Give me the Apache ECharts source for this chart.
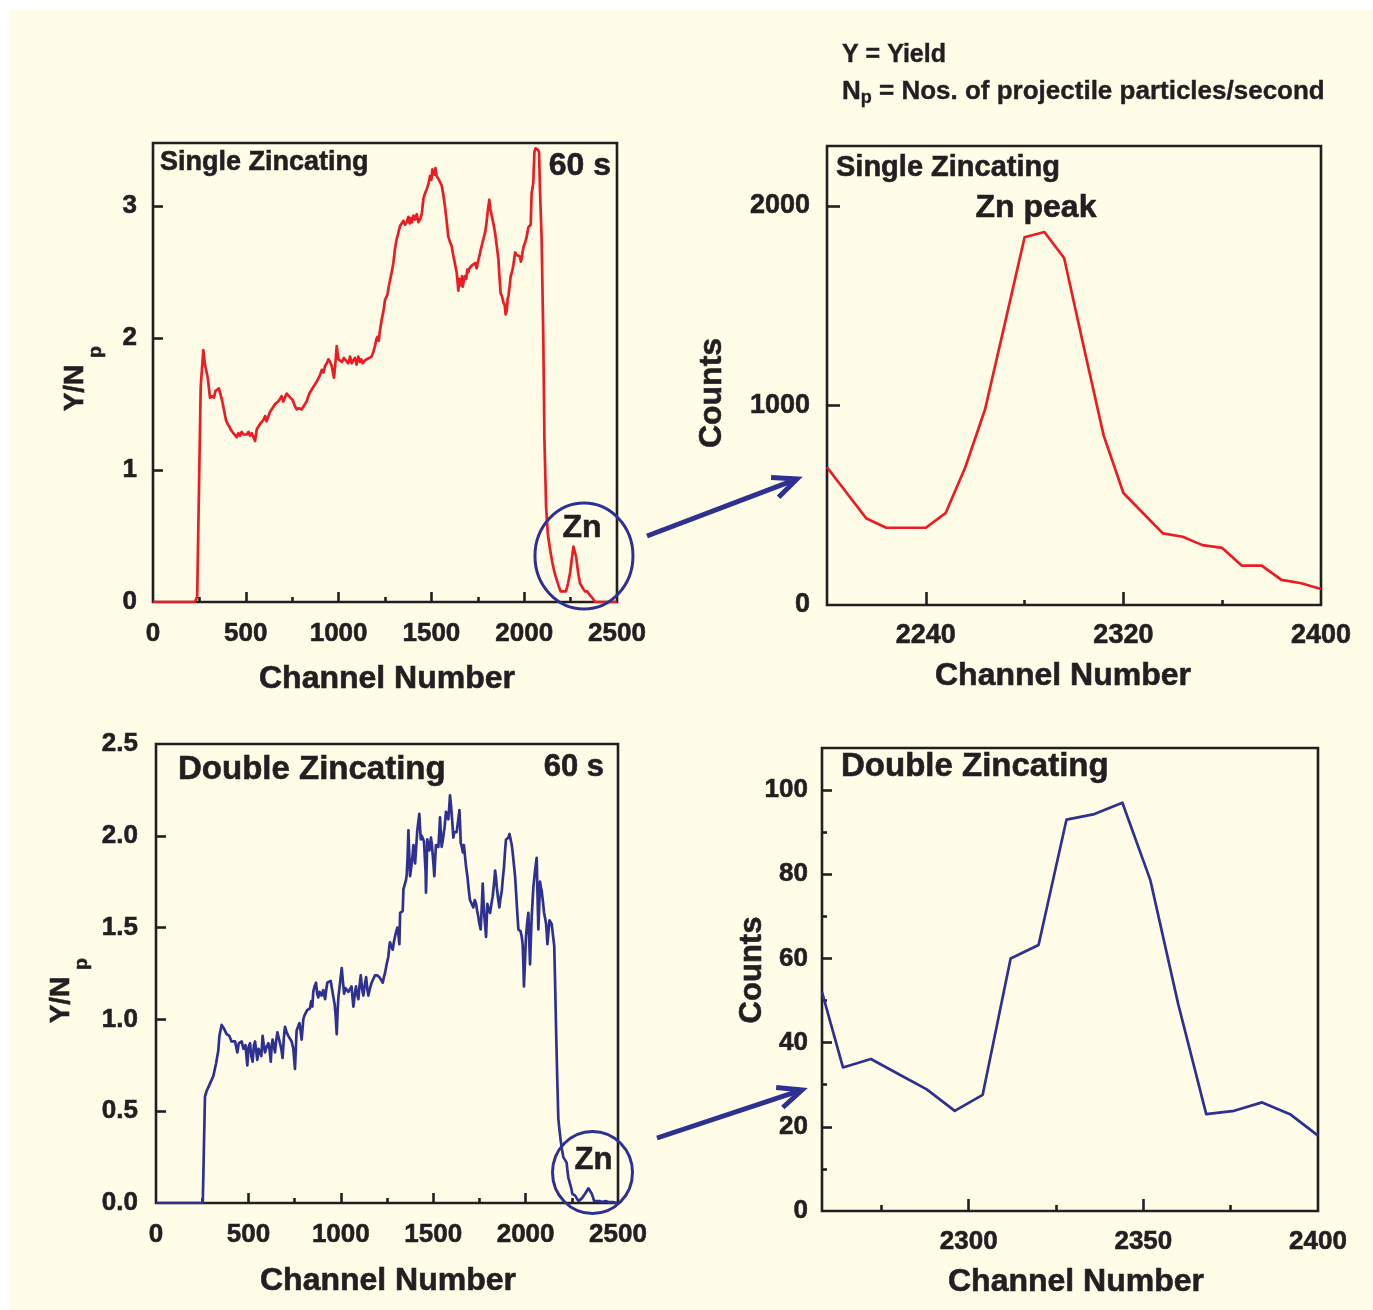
<!DOCTYPE html>
<html>
<head>
<meta charset="utf-8">
<script src="https://cdn.jsdelivr.net/npm/echarts@6/dist/echarts.min.js"></script>
<style>
  html, body { margin: 0; padding: 0; background: #ffffff; }
  #chart { width: 1373px; height: 1310px; background: #FFFDE8; box-shadow: inset 10px 10px 0 0 #ffffff; }
</style>
</head>
<body>
<div id="chart"></div>
<script>
// ---------- data: [channel, value] ----------
// Single zincating, full spectrum (Y/Np vs channel)
const singleSpectrum = [
  [0,0],[226,0],[238,0.04],[257,1.63],[271,1.91],[280,1.80],[286,1.79],[295,1.70],[303,1.69],[307,1.55],
  [318,1.56],[329,1.55],[336,1.60],[343,1.61],[355,1.62],[365,1.61],[372,1.53],[379,1.48],[393,1.38],[402,1.35],
  [411,1.33],[422,1.30],[433,1.28],[442,1.27],[451,1.25],[460,1.28],[468,1.26],[478,1.29],[487,1.27],[496,1.28],
  [505,1.27],[515,1.29],[523,1.26],[532,1.28],[541,1.27],[550,1.22],[559,1.31],[568,1.30],[577,1.35],[586,1.34],
  [595,1.38],[604,1.41],[612,1.37],[621,1.38],[630,1.44],[639,1.46],[648,1.45],[657,1.50],[666,1.49],[675,1.52],
  [684,1.54],[693,1.56],[702,1.52],[711,1.53],[720,1.58],[729,1.57],[740,1.55],[753,1.53],[763,1.49],[774,1.46],
  [787,1.47],[801,1.46],[810,1.48],[819,1.48],[828,1.52],[837,1.56],[846,1.59],[855,1.58],[864,1.63],[873,1.62],
  [882,1.67],[891,1.67],[900,1.72],[909,1.76],[918,1.74],[927,1.79],[936,1.81],[945,1.84],[954,1.82],[963,1.79],
  [970,1.80],[975,1.70],[982,1.80],[990,1.94],[999,1.84],[1008,1.84],[1018,1.82],[1029,1.85],[1040,1.83],[1052,1.81],
  [1062,1.86],[1070,1.81],[1079,1.82],[1088,1.85],[1097,1.80],[1106,1.86],[1115,1.82],[1122,1.84],[1130,1.81],[1140,1.83],
  [1151,1.84],[1165,1.85],[1178,1.86],[1188,1.90],[1196,1.94],[1203,1.99],[1209,2.01],[1216,1.98],[1223,2.06],[1232,2.14],
  [1241,2.20],[1250,2.29],[1257,2.30],[1263,2.33],[1270,2.39],[1277,2.44],[1286,2.50],[1295,2.57],[1304,2.68],[1313,2.75],
  [1322,2.80],[1331,2.85],[1340,2.84],[1349,2.89],[1358,2.86],[1367,2.88],[1376,2.92],[1383,2.87],[1388,2.91],[1395,2.88],
  [1403,2.93],[1412,2.90],[1421,2.94],[1430,2.88],[1439,2.90],[1448,2.94],[1457,3.06],[1466,3.10],[1475,3.13],[1484,3.17],
  [1493,3.23],[1500,3.20],[1505,3.28],[1510,3.27],[1516,3.24],[1522,3.29],[1528,3.23],[1537,3.21],[1546,3.20],[1555,3.16],
  [1564,3.09],[1572,3.01],[1579,2.93],[1585,2.85],[1591,2.77],[1600,2.73],[1609,2.70],[1616,2.64],[1622,2.60],[1629,2.55],
  [1636,2.50],[1641,2.43],[1645,2.36],[1650,2.45],[1654,2.44],[1660,2.40],[1665,2.47],[1669,2.39],[1675,2.44],[1681,2.47],
  [1688,2.45],[1693,2.52],[1699,2.50],[1705,2.53],[1711,2.52],[1717,2.55],[1727,2.56],[1736,2.57],[1744,2.53],[1751,2.58],
  [1758,2.62],[1764,2.66],[1771,2.70],[1780,2.75],[1789,2.80],[1795,2.85],[1801,2.93],[1807,3.00],[1812,3.05],[1818,2.98],
  [1825,2.93],[1834,2.87],[1843,2.80],[1852,2.70],[1861,2.60],[1866,2.48],[1873,2.34],[1880,2.32],[1888,2.27],[1895,2.25],
  [1900,2.18],[1906,2.21],[1911,2.30],[1915,2.32],[1922,2.40],[1927,2.47],[1934,2.50],[1941,2.55],[1946,2.60],[1951,2.65],
  [1960,2.63],[1968,2.64],[1977,2.62],[1982,2.58],[1986,2.60],[1992,2.66],[1998,2.70],[2004,2.72],[2012,2.76],[2022,2.84],
  [2030,2.85],[2035,2.86],[2040,3.10],[2045,3.14],[2049,3.18],[2055,3.41],[2061,3.44],[2067,3.44],[2074,3.43],[2080,3.41],
  [2085,3.13],[2094,2.75],[2103,1.99],[2109,1.23],[2118,0.72],[2127,0.52],[2135,0.44],[2144,0.36],[2153,0.29],[2164,0.22],
  [2175,0.17],[2186,0.12],[2197,0.08],[2211,0.08],[2225,0.08],[2236,0.14],[2247,0.22],[2256,0.32],[2265,0.42],[2274,0.42],
  [2280,0.34],[2286,0.27],[2293,0.20],[2301,0.14],[2310,0.14],[2318,0.10],[2328,0.08],[2340,0.08],[2355,0.05],[2368,0.03],
  [2382,0],[2500,0]
];

// Single zincating, Zn peak region (counts vs channel)
const singlePeak = [
  [2200,690],[2208,561],[2216,433],[2224,387],[2232,387],[2240,387],[2248,460],[2256,690],[2264,981],[2272,1410],
  [2280,1843],[2288,1869],[2296,1739],[2304,1290],[2312,850],[2320,561],[2328,460],[2336,359],[2344,342],[2352,300],
  [2360,286],[2368,197],[2376,197],[2384,126],[2392,109],[2400,80]
];

// Double zincating, full spectrum (Y/Np vs channel)
const doubleSpectrum = [
  [0,0],[253,0],[265,0.58],[274,0.61],[292,0.65],[310,0.69],[325,0.76],[337,0.83],[343,0.91],[355,0.97],
  [368,0.95],[382,0.92],[390,0.93],[397,0.91],[409,0.88],[419,0.89],[428,0.88],[440,0.82],[448,0.87],[455,0.86],
  [464,0.88],[473,0.84],[484,0.86],[494,0.75],[501,0.85],[509,0.87],[516,0.80],[523,0.77],[530,0.86],[536,0.88],
  [542,0.83],[548,0.78],[555,0.84],[563,0.85],[570,0.80],[577,0.91],[583,0.86],[590,0.82],[598,0.85],[608,0.87],
  [615,0.83],[621,0.77],[626,0.86],[631,0.89],[638,0.85],[644,0.82],[650,0.88],[657,0.93],[664,0.90],[671,0.89],
  [678,0.84],[685,0.79],[692,0.90],[698,0.96],[707,0.93],[716,0.91],[725,0.90],[734,0.88],[743,0.84],[752,0.73],
  [757,0.85],[761,0.94],[768,0.95],[776,0.98],[782,0.94],[788,0.89],[793,0.95],[797,1.00],[803,1.02],[810,1.03],
  [818,1.05],[825,1.04],[833,1.06],[840,1.10],[846,1.07],[851,1.15],[858,1.18],[866,1.20],[872,1.14],[878,1.12],
  [885,1.15],[896,1.13],[905,1.16],[915,1.11],[921,1.16],[927,1.20],[936,1.19],[945,1.21],[952,1.17],[960,1.12],
  [967,1.08],[972,1.02],[978,0.92],[983,1.05],[987,1.12],[996,1.20],[1005,1.28],[1012,1.20],[1018,1.14],[1025,1.17],
  [1032,1.18],[1041,1.15],[1050,1.14],[1058,1.18],[1068,1.07],[1075,1.13],[1082,1.18],[1088,1.14],[1095,1.11],[1101,1.18],
  [1108,1.24],[1115,1.17],[1122,1.13],[1130,1.19],[1137,1.23],[1143,1.17],[1149,1.13],[1158,1.17],[1167,1.20],[1176,1.22],
  [1185,1.24],[1197,1.24],[1209,1.23],[1218,1.22],[1227,1.20],[1233,1.23],[1239,1.25],[1248,1.30],[1257,1.34],[1262,1.39],
  [1266,1.42],[1273,1.40],[1281,1.38],[1287,1.42],[1293,1.45],[1300,1.48],[1306,1.50],[1312,1.46],[1317,1.41],[1321,1.58],
  [1328,1.58],[1335,1.59],[1339,1.71],[1348,1.71],[1353,1.76],[1357,1.79],[1362,1.90],[1366,2.03],[1371,1.88],[1375,1.78],
  [1380,1.82],[1384,1.85],[1389,1.90],[1393,1.95],[1398,1.90],[1402,1.85],[1408,1.94],[1414,2.03],[1420,2.08],[1425,2.12],
  [1429,2.04],[1433,1.98],[1438,2.00],[1443,2.01],[1450,1.97],[1456,1.96],[1459,1.80],[1461,1.69],[1465,1.85],[1468,1.98],
  [1474,1.95],[1479,1.92],[1484,1.96],[1488,1.99],[1493,1.95],[1497,1.90],[1502,1.84],[1506,1.78],[1511,1.88],[1515,1.95],
  [1522,1.96],[1528,1.94],[1533,2.02],[1537,2.10],[1542,2.00],[1546,1.94],[1551,1.97],[1555,1.96],[1562,2.05],[1569,2.13],
  [1576,2.11],[1582,2.09],[1587,2.16],[1591,2.22],[1596,2.17],[1600,2.12],[1605,2.05],[1609,1.99],[1614,2.02],[1618,2.03],
  [1627,2.02],[1636,2.03],[1642,2.14],[1646,2.05],[1649,1.96],[1655,1.94],[1660,1.91],[1666,1.95],[1672,1.94],[1678,1.83],
  [1685,1.78],[1692,1.71],[1699,1.65],[1708,1.63],[1717,1.61],[1725,1.65],[1732,1.63],[1738,1.59],[1744,1.56],[1750,1.52],
  [1757,1.49],[1763,1.62],[1768,1.74],[1773,1.63],[1777,1.56],[1782,1.50],[1786,1.45],[1790,1.55],[1793,1.63],[1800,1.60],
  [1808,1.58],[1815,1.63],[1822,1.67],[1829,1.74],[1835,1.81],[1840,1.77],[1844,1.72],[1851,1.66],[1858,1.61],[1864,1.66],
  [1871,1.70],[1877,1.77],[1883,1.83],[1889,1.92],[1894,1.98],[1901,1.99],[1907,1.99],[1913,2.01],[1919,2.00],[1925,1.95],
  [1930,1.91],[1937,1.84],[1943,1.78],[1948,1.70],[1952,1.63],[1957,1.55],[1961,1.49],[1967,1.49],[1973,1.48],[1979,1.45],
  [1984,1.41],[1988,1.30],[1991,1.18],[1996,1.30],[2002,1.45],[2008,1.52],[2015,1.58],[2020,1.42],[2024,1.30],[2029,1.45],
  [2033,1.56],[2038,1.65],[2042,1.72],[2047,1.77],[2051,1.81],[2056,1.85],[2060,1.88],[2064,1.70],[2069,1.49],[2074,1.62],
  [2078,1.75],[2083,1.72],[2087,1.70],[2094,1.64],[2100,1.58],[2106,1.55],[2111,1.52],[2115,1.46],[2118,1.41],[2124,1.48],
  [2129,1.54],[2135,1.53],[2141,1.52],[2150,1.52],[2155,1.40],[2159,1.23],[2165,0.94],[2172,0.65],[2177,0.46],[2183,0.40],
  [2190,0.34],[2197,0.29],[2204,0.25],[2213,0.24],[2222,0.22],[2227,0.17],[2231,0.14],[2236,0.12],[2241,0.11],[2247,0.08],
  [2253,0.05],[2260,0.05],[2268,0.04],[2277,0.03],[2286,0.01],[2295,0.02],[2304,0.025],[2313,0.03],[2322,0.05],[2331,0.06],
  [2340,0.08],[2349,0.07],[2358,0.05],[2365,0.03],[2371,0.01],[2387,0.01],[2403,0.01],[2414,0.005],[2424,0],[2432,0.01],
  [2439,0.015],[2448,0.005],[2457,0],[2475,0.005],[2493,0],[2500,0]
];

// Double zincating, Zn peak region (counts vs channel)
const doublePeak = [
  [2258,52],[2264,34.1],[2272,36.1],[2280,32.5],[2288,28.9],[2296,23.8],[2304,27.6],[2312,60.0],[2320,63.2],[2328,93.0],
  [2336,94.3],[2344,97.0],[2352,78.6],[2360,49.1],[2368,23.0],[2376,23.8],[2384,25.8],[2392,23.0],[2400,17.9]
];

// tick label values
const spectrumXLabels = [0, 500, 1000, 1500, 2000, 2500];
const singleYLabels = [0, 1, 2, 3];
const doubleYLabels = [0, 0.5, 1.0, 1.5, 2.0, 2.5];
const singlePeakXLabels = [2240, 2320, 2400];
const singlePeakYLabels = [0, 1000, 2000];
const doublePeakXLabels = [2300, 2350, 2400];
const doublePeakYLabels = [0, 20, 40, 60, 80, 100];

// ---------- styling ----------
const INK = '#231F20';
const RED = '#ED1C24';
const BLUE = '#2E3192';
const FAM = '"Liberation Sans", Arial, Helvetica, sans-serif';
const NARROW = '"Liberation Sans Narrow", "Liberation Sans", sans-serif';
const HEAVY = 0.6; // extra stroke that thickens the bold lettering

const grids = [
  { left: 153, top: 143, width: 464, height: 459 },
  { left: 827, top: 146, width: 494, height: 459 },
  { left: 156, top: 744, width: 462, height: 459 },
  { left: 822, top: 748, width: 496, height: 463 }
].map(g => Object.assign({ show: true, borderColor: INK, borderWidth: 2.6, backgroundColor: 'transparent' }, g));

function mainAxis(pos, gridIndex, min, max, labels, ticks, tickLen, fontSize, margin, fmt) {
  return {
    type: 'value', position: pos, gridIndex, min, max,
    axisLine: { show: false, onZero: false },
    splitLine: { show: false },
    axisTick: { show: true, inside: true, length: tickLen, customValues: ticks, lineStyle: { color: INK, width: 2.6 } },
    axisLabel: {
      show: true, customValues: labels, margin, color: INK,
      fontFamily: FAM, fontWeight: 'bold', fontSize,
      textBorderColor: INK, textBorderWidth: HEAVY,
      formatter: fmt || (v => String(v))
    }
  };
}
function minorAxis(pos, gridIndex, min, max, ticks, tickLen) {
  return {
    type: 'value', position: pos, gridIndex, min, max,
    axisLine: { show: false, onZero: false },
    splitLine: { show: false },
    axisLabel: { show: false },
    axisTick: { show: true, inside: true, length: tickLen, customValues: ticks, lineStyle: { color: INK, width: 2.6 } }
  };
}

const xAxes = [
  mainAxis('bottom', 0, 0, 2500, spectrumXLabels, [500, 1000, 1500, 2000], 10, 26, 19),
  minorAxis('bottom', 0, 0, 2500, [250, 750, 1250, 1750, 2250], 5),
  mainAxis('bottom', 1, 2200, 2400, singlePeakXLabels, [2240, 2320], 13, 27, 17),
  minorAxis('bottom', 1, 2200, 2400, [2280, 2360], 5),
  mainAxis('bottom', 2, 0, 2500, spectrumXLabels, [500, 1000, 1500, 2000], 10, 26, 19),
  minorAxis('bottom', 2, 0, 2500, [250, 750, 1250, 1750, 2250], 5),
  mainAxis('bottom', 3, 2258, 2400, doublePeakXLabels, [2300, 2350], 12, 26, 18),
  minorAxis('bottom', 3, 2258, 2400, [2275, 2325, 2375], 6)
];
const yAxes = [
  mainAxis('left', 0, 0, 3.48, singleYLabels, [1, 2, 3], 10, 26, 16),
  mainAxis('left', 1, 0, 2300, singlePeakYLabels, [1000, 2000], 13, 27, 17),
  mainAxis('left', 2, 0, 2.5, doubleYLabels, [0.5, 1.0, 1.5, 2.0], 10, 26, 18, v => v.toFixed(1)),
  mainAxis('left', 3, 0, 110, doublePeakYLabels, [20, 40, 60, 80, 100], 10, 26, 14),
  minorAxis('left', 3, 0, 110, [10, 30, 50, 70, 90], 5)
];

function lineSeries(data, xi, yi, color) {
  return {
    type: 'line', data, xAxisIndex: xi, yAxisIndex: yi,
    showSymbol: false, symbol: 'none', clip: true,
    lineStyle: { color, width: 2.7, join: 'round' },
    emphasis: { disabled: true }
  };
}

const series = [
  lineSeries(singleSpectrum, 0, 0, RED),
  lineSeries(singlePeak, 2, 1, RED),
  lineSeries(doubleSpectrum, 4, 2, BLUE),
  lineSeries(doublePeak, 6, 3, BLUE)
];

function label(text, x, y, size, align, extra) {
  return Object.assign({
    type: 'text', x, y, silent: true, z: 10,
    style: {
      text, fill: INK, font: 'bold ' + size + 'px ' + FAM,
      stroke: INK, lineWidth: HEAVY,
      align: align || 'left', verticalAlign: 'middle',
      textAlign: align || 'left', textVerticalAlign: 'middle'
    }
  }, extra || {});
}
function vlabel(text, x, y, size) {
  return label(text, x, y, size, 'center', { rotation: Math.PI / 2 });
}

const chart = echarts.init(document.getElementById('chart'), null, { renderer: 'canvas' });
chart.setOption({
  animation: false,
  backgroundColor: 'transparent',
  grid: grids,
  xAxis: xAxes,
  yAxis: yAxes,
  series
});

// ---------- annotations ----------
function arrow(x1, y1, x2, y2) {
  const dx = x2 - x1, dy = y2 - y1, L = Math.hypot(dx, dy);
  const ux = dx / L, uy = dy / L;
  const head = 26, a = 0.42;
  const c = Math.cos(a), s = Math.sin(a);
  const p1 = [x2 - head * (ux * c - uy * s), y2 - head * (uy * c + ux * s)];
  const p2 = [x2 - head * (ux * c + uy * s), y2 - head * (uy * c - ux * s)];
  return [
    { type: 'line', silent: true, z: 10, shape: { x1, y1, x2: x2 - ux * 3, y2: y2 - uy * 3 }, style: { stroke: BLUE, lineWidth: 5 } },
    { type: 'polyline', silent: true, z: 10, shape: { points: [p1, [x2, y2], p2] }, style: { stroke: BLUE, lineWidth: 5, fill: null, lineJoin: 'miter' } }
  ];
}

const zn1 = chart.convertToPixel({ seriesIndex: 0 }, [2322, 0.349]);
const zn2 = chart.convertToPixel({ seriesIndex: 2 }, [2362, 0.166]);

const keyStyle = { fill: INK, fontFamily: NARROW, fontWeight: 'bold', stroke: INK, lineWidth: 0.4 };

const graphics = [
  // notation key
  {
    type: 'text', x: 842, y: 55, silent: true,
    style: { text: 'Y = Yield', fill: INK, font: 'bold 25px ' + NARROW, stroke: INK, lineWidth: 0.4,
      align: 'left', verticalAlign: 'middle', textAlign: 'left', textVerticalAlign: 'middle' }
  },
  {
    type: 'text', x: 842, y: 92, silent: true,
    style: {
      text: '{a|N}{b|p}{a| = Nos. of projectile particles/second}',
      align: 'left', verticalAlign: 'middle', textAlign: 'left', textVerticalAlign: 'middle',
      rich: {
        a: Object.assign({ fontSize: 26, lineHeight: 30 }, keyStyle),
        b: Object.assign({ fontSize: 18, lineHeight: 18, verticalAlign: 'bottom' }, keyStyle)
      }
    }
  },

  // panel captions
  label('Single Zincating', 160, 163, 27, 'left'),
  label('60 s', 611, 166, 32, 'right'),
  label('Single Zincating', 836, 168, 29, 'left'),
  label('Zn peak', 1036, 208, 32, 'center'),
  label('Double Zincating', 178, 770, 33, 'left'),
  label('60 s', 604, 767, 31, 'right'),
  label('Double Zincating', 841, 767, 33, 'left'),

  // axis titles
  label('Channel Number', 387, 679, 32, 'center'),
  label('Channel Number', 1063, 676, 32, 'center'),
  label('Channel Number', 388, 1281, 32, 'center'),
  label('Channel Number', 1076, 1282, 32, 'center'),
  vlabel('Y/N', 75, 388, 28),
  vlabel('p', 96, 352, 19),
  vlabel('Y/N', 61, 1000, 28),
  vlabel('p', 82, 964, 19),
  vlabel('Counts', 712, 393, 32),
  vlabel('Counts', 752, 970, 31),

  // Zn region markers
  { type: 'ellipse', silent: true, z: 10, shape: { cx: zn1[0], cy: zn1[1], rx: 49, ry: 53 }, style: { fill: null, stroke: BLUE, lineWidth: 3 } },
  label('Zn', zn1[0] - 2, zn1[1] - 28, 32, 'center'),
  { type: 'ellipse', silent: true, z: 10, shape: { cx: zn2[0], cy: zn2[1], rx: 40, ry: 41 }, style: { fill: null, stroke: BLUE, lineWidth: 3 } },
  label('Zn', zn2[0] + 1, zn2[1] - 12, 31, 'center'),

  ...arrow(647, 536, 797, 479),
  ...arrow(657, 1138, 802, 1090)
];

chart.setOption({ graphic: { elements: graphics } });
</script>
</body>
</html>
